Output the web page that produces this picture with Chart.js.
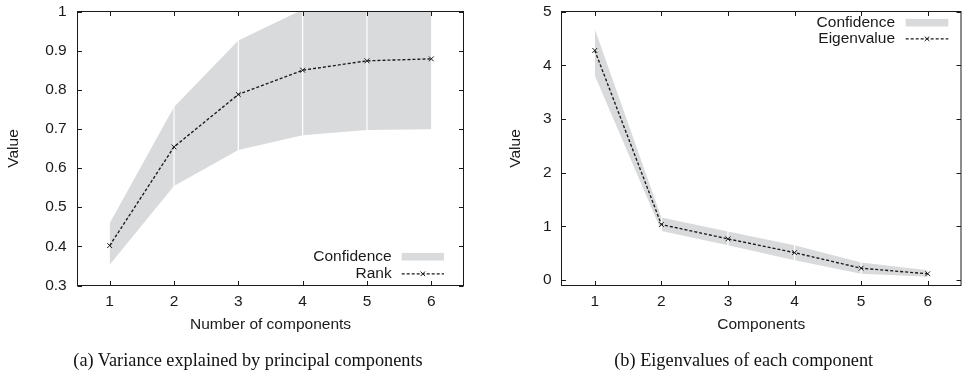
<!DOCTYPE html>
<html><head><meta charset="utf-8">
<script src="https://cdn.jsdelivr.net/npm/chart.js@4"></script>
<style>
html,body{margin:0;padding:0;background:#fff;}
body{width:966px;height:375px;position:relative;overflow:hidden;}
.panel{position:absolute;top:0;width:483px;height:375px;}
canvas{display:block;}
.cap{position:absolute;top:348px;font-family:"Liberation Serif","DejaVu Serif",serif;font-size:18.3px;color:#111;white-space:nowrap;transform:translateX(-50%);line-height:24px;}
</style></head><body>
<div class="panel" style="left:0"><canvas id="c1" width="483" height="375"></canvas></div>
<div class="panel" style="left:483px"><canvas id="c2" width="483" height="375"></canvas></div>
<div class="cap" style="left:248px">(a) Variance explained by principal components</div>
<div class="cap" style="left:743.7px">(b) Eigenvalues of each component</div>
<script>
// ---- data ----
const components = [1, 2, 3, 4, 5, 6];
const xTickValues = [1, 2, 3, 4, 5, 6];
const xTickLabels = ['1', '2', '3', '4', '5', '6'];

const varianceRank  = [0.402, 0.654, 0.788, 0.850, 0.874, 0.879];
const varianceUpper = [0.459, 0.756, 0.926, 1.005, 1.01, 1.01];
const varianceLower = [0.353, 0.554, 0.646, 0.684, 0.697, 0.699];
const varianceTickValues = [0.3, 0.4, 0.5, 0.6, 0.7, 0.8, 0.9, 1];
const varianceTickLabels = ['0.3', '0.4', '0.5', '0.6', '0.7', '0.8', '0.9', '1'];

const eigenvalues = [4.275, 1.035, 0.768, 0.512, 0.222, 0.118];
const eigenUpper  = [4.672, 1.165, 0.904, 0.651, 0.329, 0.186];
const eigenLower  = [3.81, 0.916, 0.651, 0.372, 0.118, 0.062];
const eigenTickValues = [0, 1, 2, 3, 4, 5];
const eigenTickLabels = ['0', '1', '2', '3', '4', '5'];

// ---- style ----
const FONT = "'Liberation Sans', Arial, Helvetica, sans-serif";
const INK = '#1a1a1a';
const BAND = '#d9dadb';

function pts(ys) { return components.map((x, i) => ({ x: x, y: ys[i] })); }

const gnuplotPlugin = {
  id: 'gnuplot',
  afterDatasetDraw(chart, args) {
    const ds = chart.data.datasets[args.index];
    if (!ds.bandUpper) return;
    const lower = chart.data.datasets[args.index + 1];
    const xs = chart.scales.x, ys = chart.scales.y, ca = chart.chartArea;
    const ctx = chart.ctx;
    ctx.save();
    ctx.beginPath();
    ctx.rect(ca.left, ca.top, ca.right - ca.left, ca.bottom - ca.top);
    ctx.clip();
    ctx.strokeStyle = '#ffffff';
    ctx.lineWidth = 1.2;
    for (let i = 1; i < ds.data.length - 1; i++) {
      const px = xs.getPixelForValue(ds.data[i].x);
      ctx.beginPath();
      ctx.moveTo(px, ys.getPixelForValue(ds.data[i].y) - 2);
      ctx.lineTo(px, ys.getPixelForValue(lower.data[i].y) + 2);
      ctx.stroke();
    }
    ctx.restore();
  },
  afterDraw(chart, args, opts) {
    const ctx = chart.ctx, ca = chart.chartArea;
    const xs = chart.scales.x, ys = chart.scales.y;
    ctx.save();
    ctx.strokeStyle = INK;
    ctx.lineWidth = 1;
    ctx.setLineDash([]);
    // inward tick marks on all four sides
    const TL = 4.5;
    ctx.beginPath();
    xs.ticks.forEach(t => {
      const px = Math.round(xs.getPixelForValue(t.value)) + 0.5;
      ctx.moveTo(px, ca.bottom); ctx.lineTo(px, ca.bottom - TL);
      ctx.moveTo(px, ca.top); ctx.lineTo(px, ca.top + TL);
    });
    ys.ticks.forEach(t => {
      const py = Math.round(ys.getPixelForValue(t.value)) + 0.5;
      ctx.moveTo(ca.left, py); ctx.lineTo(ca.left + TL, py);
      ctx.moveTo(ca.right, py); ctx.lineTo(ca.right - TL, py);
    });
    ctx.stroke();
    // frame
    ctx.strokeRect(ca.left, ca.top, ca.right - ca.left, ca.bottom - ca.top);

    // legend (gnuplot style: text right-aligned, sample to the right)
    if (opts && opts.textRight) {
      const lineDs = chart.data.datasets[0];
      const bandDs = chart.data.datasets[1];
      const items = [
        { text: bandDs.label, kind: 'band', y: opts.y0 },
        { text: lineDs.label, kind: 'line', y: opts.y0 + opts.dy }
      ];
      ctx.font = '15.5px ' + FONT;
      ctx.textAlign = 'right';
      ctx.textBaseline = 'middle';
      items.forEach(it => {
        ctx.fillStyle = INK;
        ctx.fillText(it.text, opts.textRight, it.y);
        if (it.kind === 'band') {
          ctx.fillStyle = BAND;
          ctx.fillRect(opts.sampleLeft, it.y - 3.8, opts.sampleRight - opts.sampleLeft, 7.6);
        } else {
          ctx.strokeStyle = INK;
          ctx.lineWidth = 1.2;
          ctx.setLineDash([3, 2]);
          ctx.beginPath();
          ctx.moveTo(opts.sampleLeft, it.y + 0.5);
          ctx.lineTo(opts.sampleRight, it.y + 0.5);
          ctx.stroke();
          ctx.setLineDash([]);
          ctx.lineWidth = 1;
          const cx = (opts.sampleLeft + opts.sampleRight) / 2, cy = it.y + 0.5, r = 2.3;
          ctx.beginPath();
          ctx.moveTo(cx - r, cy - r); ctx.lineTo(cx + r, cy + r);
          ctx.moveTo(cx - r, cy + r); ctx.lineTo(cx + r, cy - r);
          ctx.stroke();
        }
      });
    }
    ctx.restore();
  }
};

function makeChart(id, cfg) {
  return new Chart(document.getElementById(id), {
    type: 'line',
    data: {
      datasets: [
        {
          label: cfg.lineLabel,
          data: pts(cfg.line),
          borderColor: INK,
          borderWidth: 1.35,
          borderDash: [3, 2],
          pointStyle: 'crossRot',
          pointRadius: 3.4,
          pointBorderWidth: 1,
          pointBorderColor: INK,
          pointBackgroundColor: INK,
          fill: false,
          tension: 0
        },
        {
          label: 'Confidence',
          bandUpper: true,
          data: pts(cfg.upper),
          borderWidth: 0,
          borderColor: 'rgba(0,0,0,0)',
          backgroundColor: BAND,
          pointRadius: 0,
          fill: '+1',
          tension: 0
        },
        {
          label: 'Confidence (lower)',
          data: pts(cfg.lower),
          borderWidth: 0,
          borderColor: 'rgba(0,0,0,0)',
          pointRadius: 0,
          fill: false,
          tension: 0
        }
      ]
    },
    options: {
      responsive: false,
      animation: false,
      devicePixelRatio: 1,
      layout: { padding: { left: 0, top: 11.5, right: cfg.padRight, bottom: 0 } },
      plugins: {
        legend: { display: false },
        tooltip: { enabled: false },
        gnuplot: cfg.legend
      },
      scales: {
        x: {
          type: 'linear',
          min: 0.5, max: 6.5,
          bounds: 'data',
          afterBuildTicks: s => { s.ticks = xTickValues.map(v => ({ value: v })); },
          afterFit: s => { s.height = 89.5; s.paddingLeft = 0; s.paddingRight = 0; },
          grid: { display: false, drawTicks: false },
          border: { display: false },
          ticks: {
            callback: (v, i) => xTickLabels[i],
            font: { family: FONT, size: 15.5 },
            color: INK,
            padding: 7,
            maxRotation: 0,
            autoSkip: false
          },
          title: {
            display: true,
            text: cfg.xTitle,
            font: { family: FONT, size: 15.5, lineHeight: 1.2 },
            color: INK,
            padding: { top: 0, bottom: 40.7 }
          }
        },
        y: {
          type: 'linear',
          min: cfg.yMin, max: cfg.yMax,
          bounds: 'data',
          afterBuildTicks: s => { s.ticks = cfg.yTickValues.map(v => ({ value: v })); },
          afterFit: s => { s.width = cfg.yWidth; s.paddingTop = 0; s.paddingBottom = 0; },
          grid: { display: false, drawTicks: false },
          border: { display: false },
          ticks: {
            callback: (v, i) => cfg.yTickLabels[i],
            font: { family: FONT, size: 15.5 },
            color: INK,
            padding: cfg.yTickPad,
            autoSkip: false
          },
          title: {
            display: true,
            text: 'Value',
            font: { family: FONT, size: 15.5, lineHeight: 1.2 },
            color: INK,
            padding: { top: cfg.yTitlePad, bottom: 0 }
          }
        }
      }
    },
    plugins: [gnuplotPlugin]
  });
}

makeChart('c1', {
  lineLabel: 'Rank',
  line: varianceRank, upper: varianceUpper, lower: varianceLower,
  yMin: 0.3, yMax: 1,
  yTickValues: varianceTickValues, yTickLabels: varianceTickLabels,
  yWidth: 77.5, yTickPad: 10.8, yTitlePad: 4.7, padRight: 19.5,
  xTitle: 'Number of components',
  legend: { textRight: 391.7, y0: 256.7, dy: 16.6, sampleLeft: 401.7, sampleRight: 444 }
});

makeChart('c2', {
  lineLabel: 'Eigenvalue',
  line: eigenvalues, upper: eigenUpper, lower: eigenLower,
  yMin: -0.1, yMax: 5,
  yTickValues: eigenTickValues, yTickLabels: eigenTickLabels,
  yWidth: 78.5, yTickPad: 9.8, yTitlePad: 23.7, padRight: 0.5,
  xTitle: 'Components',
  legend: { textRight: 412, y0: 22.7, dy: 15.6, sampleLeft: 422.7, sampleRight: 465.3 }
});
</script>
</body></html>
